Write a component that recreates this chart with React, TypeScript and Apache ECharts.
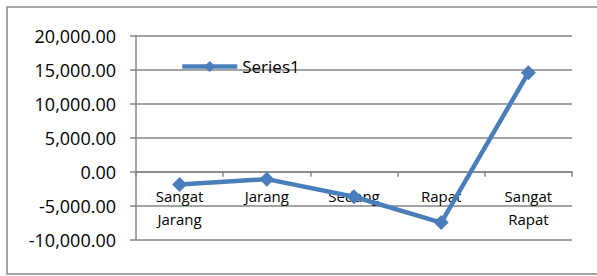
import React, { useEffect, useRef } from "react";
import * as echarts from "echarts";

const categories = ["Sangat\nJarang", "Jarang", "Sedang", "Rapat", "Sangat\nRapat"];
const series1 = [-1900, -1100, -3700, -7500, 14600];
const yTicks = { min: -10000, max: 20000, interval: 5000 };
const seriesName = "Series1";

const fmt = (v: number) =>
  v.toLocaleString("en-US", { minimumFractionDigits: 2, maximumFractionDigits: 2 });

export default function App() {
  const ref = useRef<HTMLDivElement>(null);
  useEffect(() => {
    const chart = echarts.init(ref.current!, null, { renderer: "svg" });
    const font = "'Open Sans', 'Noto Sans', sans-serif";
    const gray = "#868686";
    chart.setOption({
      animation: false,
      backgroundColor: "#ffffff",
      textStyle: { fontFamily: font, color: "#000" },
      graphic: [
        {
          type: "rect",
          shape: { x: 7, y: 7, width: 600, height: 267 },
          style: { fill: "none", stroke: gray, lineWidth: 1.5 },
          silent: true,
        },
      ],
      legend: {
        left: 175,
        top: 53,
        itemWidth: 55,
        itemHeight: 14,
        itemGap: 4,
        data: [{ name: seriesName }],
        lineStyle: { width: 4.5 },
        textStyle: { fontFamily: font, fontSize: 17, color: "#000" },
      },
      grid: {
        left: 136,
        right: 25,
        top: 36,
        bottom: 36.5,
        containLabel: false,
        outerBoundsMode: "none",
      },
      xAxis: [
        {
          type: "category",
          data: categories,
          boundaryGap: true,
          axisLine: { onZero: true, lineStyle: { color: gray, width: 1.5 } },
          axisTick: { show: true, length: 5, inside: false, lineStyle: { color: gray, width: 1.5 } },
          axisLabel: { show: false },
          splitLine: { show: false },
        },
        {
          type: "category",
          data: categories,
          position: "bottom",
          boundaryGap: true,
          axisLine: { show: false, onZero: false },
          axisTick: { show: false },
          axisLabel: {
            fontFamily: font,
            fontSize: 15,
            color: "#000",
            lineHeight: 23,
            margin: -55,
            interval: 0,
          },
          splitLine: { show: false },
        },
      ],
      yAxis: {
        type: "value",
        min: yTicks.min,
        max: yTicks.max,
        interval: yTicks.interval,
        axisLine: { show: true, lineStyle: { color: gray, width: 1.5 } },
        axisTick: { show: true, length: 6, lineStyle: { color: gray, width: 1.5 } },
        axisLabel: {
          fontFamily: font,
          fontSize: 18,
          color: "#000",
          margin: 20,
          formatter: (v: number) => fmt(v),
        },
        splitLine: { show: true, lineStyle: { color: gray, width: 1.5 } },
      },
      series: [
        {
          name: seriesName,
          type: "line",
          xAxisIndex: 0,
          data: series1,
          symbol: "diamond",
          symbolSize: 15,
          lineStyle: { color: "#4a7ebb", width: 4.5 },
          itemStyle: { color: "#4a7ebb" },
        },
      ],
    });
    return () => chart.dispose();
  }, []);
  return (
    <div
      ref={ref}
      style={{ position: "fixed", left: 0, top: 0, width: 597, height: 276 }}
    />
  );
}
